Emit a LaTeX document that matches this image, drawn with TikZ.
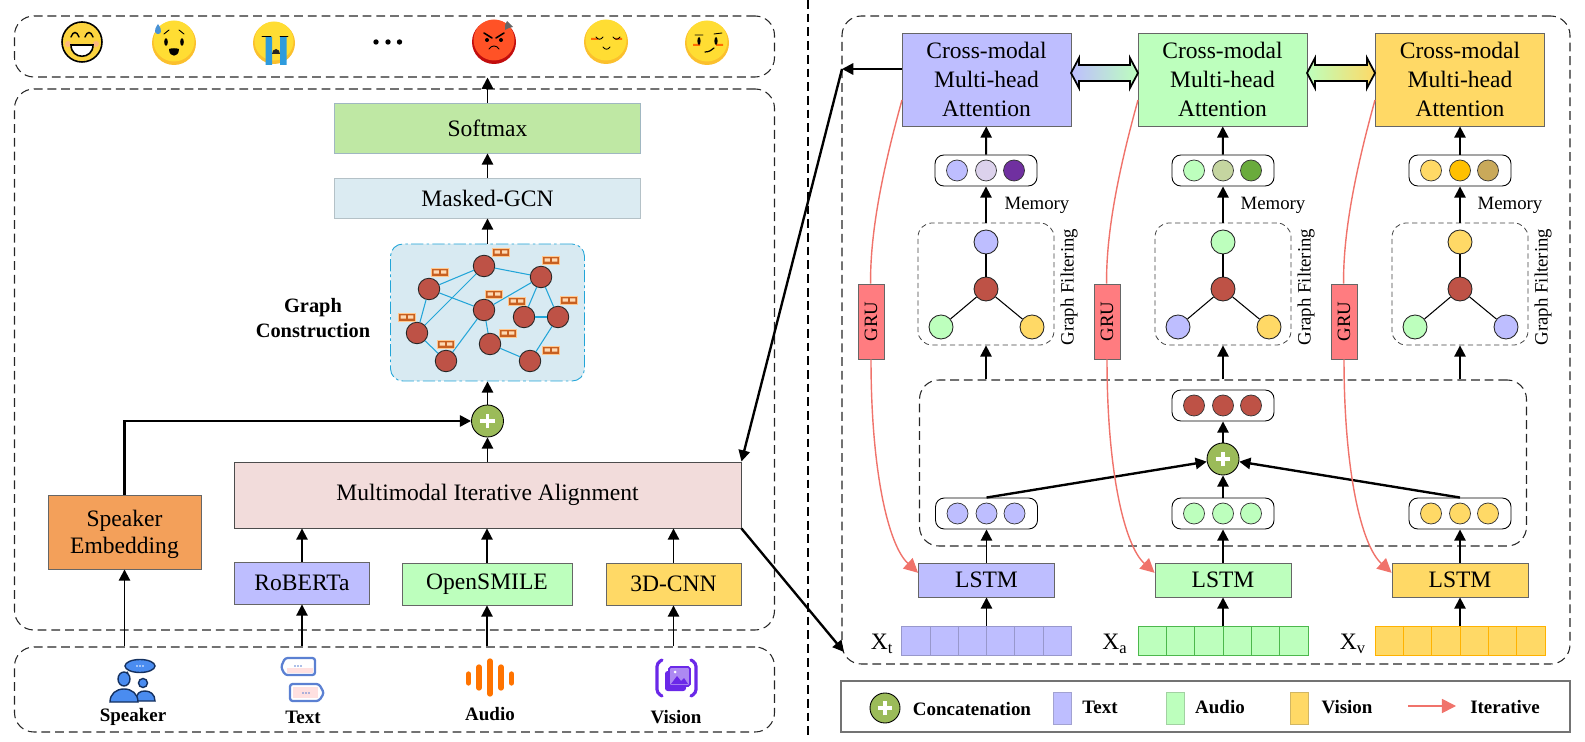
\documentclass[tikz,border=0pt]{standalone}
\usepackage{fontspec}
\setmainfont{Liberation Serif}
\usetikzlibrary{arrows.meta}
\newcommand{\px}{0.02cm}
\definecolor{textblue}{HTML}{BEBEFF}
\definecolor{audiogreen}{HTML}{BDFFBD}
\definecolor{visionyellow}{HTML}{FFD966}
\definecolor{nodered}{HTML}{BE5246}
\definecolor{plusgreen}{HTML}{9BBB59}
\definecolor{iterred}{HTML}{F0736B}
\definecolor{linkblue}{HTML}{22A5D8}
\definecolor{icondark}{HTML}{14305F}
\definecolor{iconblue}{HTML}{4A8CF0}
\definecolor{bubbleblue}{HTML}{5B80D2}
\definecolor{visionpurple}{HTML}{6A28E8}
\definecolor{faceyellow}{HTML}{FFDD33}
\definecolor{faceshade}{HTML}{FBC02D}
\definecolor{softmaxgreen}{HTML}{BFE8A4}
\definecolor{maskedblue}{HTML}{DBEBF2}
\definecolor{graphblue}{HTML}{D8EAF2}
\definecolor{alignpink}{HTML}{F2DCDB}
\definecolor{speakerorange}{HTML}{F3A05A}
\definecolor{grured}{HTML}{FF7C80}
\definecolor{tagorange}{HTML}{C75F20}
\tikzset{
  big text/.style={font=\fontsize{13.4}{16.2}\selectfont},
  small text/.style={font=\fontsize{10.7}{13}\selectfont},
  bold text/.style={font=\fontsize{10.8}{13}\selectfont\bfseries},
  panel/.style={draw=black!85, fill=none, dashed, dash pattern=on 5pt off 2.8pt, line width=0.6pt, rounded corners=11pt, inner sep=0pt},
  filter panel/.style={panel, draw=black!75, dash pattern=on 3pt off 2pt, line width=0.45pt, rounded corners=8pt},
  box/.style 2 args={draw=black!60, line width=0.5pt, inner sep=0pt, align=center, big text, minimum width=#1*\px, minimum height=#2*\px},
  pill/.style={draw=black, fill=white, line width=0.5pt, rounded corners=5pt, inner sep=0pt, minimum width=102*\px, minimum height=31*\px},
  dot/.style={circle, draw=black!80, line width=0.4pt, inner sep=0pt, minimum size=21*\px},
  vertex/.style={circle, draw=black!85, line width=0.5pt, inner sep=0pt, minimum size=24*\px},
  graph vertex/.style={circle, draw=black!85, fill=nodered, line width=0.5pt, inner sep=0pt, minimum size=21.5*\px},
  plus node/.style={circle, draw=black, fill=plusgreen, line width=0.5pt, inner sep=0pt, minimum size=#1*\px,
    path picture={\draw[white, line width=1.9pt]
      ([xshift=-4.2pt]path picture bounding box.center) -- ([xshift=4.2pt]path picture bounding box.center)
      ([yshift=-4.2pt]path picture bounding box.center) -- ([yshift=4.2pt]path picture bounding box.center);}},
  tag/.style={draw=orange!45, line width=0.3pt, fill=tagorange, inner sep=0pt, minimum width=17*\px, minimum height=8*\px,
    path picture={\fill[orange!30]
      ([xshift=-3.6pt,yshift=-0.9pt]path picture bounding box.center) rectangle ([xshift=-0.6pt,yshift=0.9pt]path picture bounding box.center)
      ([xshift=0.6pt,yshift=-0.9pt]path picture bounding box.center) rectangle ([xshift=3.6pt,yshift=0.9pt]path picture bounding box.center);}},
  flow/.style={->, line width=1.1pt},
  heavy flow/.style={->, line width=1.35pt},
  link/.style={draw=linkblue, line width=0.6pt},
  spoke/.style={draw=black, line width=0.6pt},
  iter line/.style={draw=iterred, line width=0.8pt},
  iter arrow/.style={iter line, -{Triangle[length=8pt,width=8pt,fill=iterred]}},
  gap arrow/.style={draw=black, line width=1pt, line join=miter},
  swatch/.style={draw=#1!80!black!90, fill=#1, line width=0.4pt, inner sep=0pt, minimum width=18*\px, minimum height=32*\px},
  seq cell/.style={line width=0.5pt},
  face/.style={circle, inner sep=0pt, minimum size=#1*\px},
  mini stroke/.style={draw=black, line width=0.5pt, line cap=round},
}

\begin{document}
\begin{tikzpicture}[x=\px, y=-\px, >={Triangle[length=6.4pt,width=6.4pt]}]
  \useasboundingbox (0,0) rectangle (1585,742);
  % left side
  \node[panel, minimum width=760*\px, minimum height=61*\px] (Emotion Panel) at (394.5,46.5) {};
  \node[panel, minimum width=760*\px, minimum height=541*\px] (Fusion Panel) at (394.5,359.5) {};
  \node[panel, minimum width=760*\px, minimum height=85*\px] (Input Panel) at (394.5,689.5) {};
  \node[box={306}{50}, fill=softmaxgreen, draw=cyan!40!black!45] (Softmax) at (487.5,128) {Softmax};
  \node[box={306}{40}, fill=maskedblue, draw=cyan!30!black!35] (Masked GCN) at (487.5,198) {Masked-GCN};
  \node[box={194}{137}, fill=graphblue, draw=linkblue, dash pattern=on 7pt off 1.8pt on 1.5pt off 1.8pt, rounded corners=7pt] (Graph Box) at (487.5,312.5) {};
  \node[bold text, font=\fontsize{11.6}{14.6}\selectfont\bfseries, align=center] (Graph Label) at (313,318) {Graph\\Construction};
  \node[plus node=32] (Plus Left) at (487.5,421) {};
  \node[box={507}{66}, fill=alignpink, draw=black!70] (Alignment) at (487.5,495) {Multimodal Iterative Alignment};
  \node[box={153}{74}, fill=speakerorange, font=\fontsize{13.4}{15.7}\selectfont, text depth=-1pt] (Speaker Embedding) at (124.5,532) {Speaker\\Embedding};
  \node[box={135}{42}, fill=textblue] (RoBERTa) at (302,583) {RoBERTa};
  \node[box={170}{42}, fill=audiogreen] (OpenSMILE) at (487,584) {OpenSMILE};
  \node[box={135}{42}, fill=visionyellow] (3D-CNN) at (673.5,584) {3D-CNN};
  % graph in the middle
  \node[graph vertex] (G1) at (484,266) {};
  \node[graph vertex] (G2) at (541,277) {};
  \node[graph vertex] (G3) at (429,289) {};
  \node[graph vertex] (G4) at (484,310) {};
  \node[graph vertex] (G5) at (524,317) {};
  \node[graph vertex] (G6) at (558,317) {};
  \node[graph vertex] (G7) at (417,333) {};
  \node[graph vertex] (G8) at (490,344) {};
  \node[graph vertex] (G9) at (446,361) {};
  \node[graph vertex] (G10) at (530,361) {};
  \draw[link] (G1) -- (G2);
  \draw[link] (G1) -- (G3);
  \draw[link] (G1) -- (G7);
  \draw[link] (G3) -- (G4);
  \draw[link] (G3) -- (G7);
  \draw[link] (G4) -- (G2);
  \draw[link] (G4) -- (G8);
  \draw[link] (G4) -- (G9);
  \draw[link] (G7) -- (G9);
  \draw[link] (G2) -- (G5);
  \draw[link] (G2) -- (G6);
  \draw[link] (G5) -- (G6);
  \draw[link] (G6) -- (G10);
  \draw[link] (G8) -- (G10);
  \node[tag] (Tag 1) at (501,252) {};
  \node[tag] (Tag 2) at (551,260) {};
  \node[tag] (Tag 3) at (440,272) {};
  \node[tag] (Tag 4) at (494,294) {};
  \node[tag] (Tag 5) at (517,301) {};
  \node[tag] (Tag 6) at (569,300) {};
  \node[tag] (Tag 7) at (407,317) {};
  \node[tag] (Tag 8) at (508,333) {};
  \node[tag] (Tag 9) at (446,344) {};
  \node[tag] (Tag 10) at (551,350) {};
  % arrows on the left
  \draw[flow] (Softmax) -- (Softmax |- Emotion Panel.south);
  \draw[flow] (Masked GCN) -- (Softmax);
  \draw[flow] (Graph Box) -- (Masked GCN);
  \draw[flow] (Plus Left) -- (Graph Box);
  \draw[flow] (Alignment.north -| Plus Left) -- (Plus Left);
  \draw[heavy flow] (Speaker Embedding.north) |- (Plus Left);
  \draw[flow] (Input Panel.north -| Speaker Embedding) -- (Speaker Embedding);
  \draw[flow] (Input Panel.north -| RoBERTa) -- (RoBERTa);
  \draw[flow] (Input Panel.north -| OpenSMILE) -- (OpenSMILE);
  \draw[flow] (Input Panel.north -| 3D-CNN) -- (3D-CNN);
  \draw[flow] (RoBERTa) -- (RoBERTa |- Alignment.south);
  \draw[flow] (OpenSMILE) -- (OpenSMILE |- Alignment.south);
  \draw[flow] (3D-CNN) -- (3D-CNN |- Alignment.south);
  % emotions
  \node[face=40, draw=black, line width=0.9pt, fill=yellow!60!orange!75!white] (Face Happy) at (82,42) {};
  \fill[red!35, opacity=0.6] (68,44) circle (3) (96,44) circle (3);
  \draw[mini stroke, line width=0.8pt] (71,37) .. controls (73,31) and (77,31) .. (79,37) (85,37) .. controls (87,31) and (91,31) .. (93,37);
  \draw[draw=black, line width=0.9pt, fill=white] (71,45) -- (93,45) .. controls (93,60) and (71,60) .. (71,45) -- cycle;
  \node[face=44, fill=faceshade] (Face Sweat) at (174,43) {};
  \fill[faceyellow] (174,41) circle (20.5);
  \fill[black] (166,42) ellipse (1.8 and 3.8) (182,42) ellipse (1.8 and 3.8);
  \fill[black] (169,49) .. controls (172,48) and (176,48) .. (179,49) .. controls (179,58) and (169,58) .. (169,49) -- cycle;
  \draw[mini stroke] (164,34) -- (169,30) (184,34) -- (179,30);
  \fill[cyan!60!blue!75] (158,24) .. controls (153,31) and (155,34) .. (158,34) .. controls (161,34) and (163,31) .. (158,24) -- cycle;
  \node[face=42, fill=faceshade] (Face Crying) at (274,43) {};
  \fill[faceyellow] (274,41) circle (19.5);
  \fill[cyan!75!blue!85] (265.5,37) rectangle (272,65) (280,37) rectangle (286.5,65);
  \fill[black!85] (272,54) arc (180:360:4 and 5) -- cycle;
  \draw[mini stroke, line width=0.4pt] (262,36) -- (271,36) (280,36) -- (288,36);
  \fill[black] (376,42) circle (2.7) (388,42) circle (2.7) (399.5,42) circle (2.7);
  \node[face=44, fill=red!75!black!95] (Face Angry) at (494,42) {};
  \fill[red!60!orange!85] (494,40) circle (20.5);
  \draw[mini stroke, line width=0.9pt] (484,33) -- (492,38) (504,33) -- (496,38);
  \fill[black] (487,40) circle (2) (501,40) circle (2);
  \draw[mini stroke] (489,49) .. controls (491,45) and (497,45) .. (499,49);
  \fill[black!60] (507,21) -- (510,24) -- (513,27) -- (509,28) -- (505,30) -- (505,25) -- cycle;
  \node[face=44, fill=faceshade] (Face Shy) at (606,42) {};
  \fill[faceyellow] (606,40) circle (20.5);
  \fill[orange!85!red] (591,38) rectangle (598,40) (615,38) rectangle (622,40);
  \draw[mini stroke] (596,37) .. controls (598,40) and (601,40) .. (603,37) (613,37) .. controls (615,40) and (618,40) .. (620,37);
  \draw[mini stroke] (603,47) .. controls (605,50) and (608,50) .. (610,47);
  \node[face=44, fill=faceshade] (Face Doubt) at (707,43) {};
  \fill[faceyellow] (707,41) circle (20.5);
  \fill[orange!85!red] (693,44) rectangle (700,46) (716,44) rectangle (723,46);
  \draw[mini stroke] (695,35) -- (703,35) (714,34) -- (722,33);
  \fill[black] (699,41) ellipse (1.6 and 4) (716,41) ellipse (1.6 and 4);
  \draw[mini stroke, line width=0.7pt] (705,52) .. controls (709,52) and (712,50) .. (714,48);
  % inputs
  \draw[icondark, line width=0.8pt, fill=iconblue] (140,666) ellipse (15 and 6.5);
  \draw[icondark, line width=0.8pt] (128,672) -- (124,675);
  \fill[white] (137,666) circle (0.8) (140,666) circle (0.8) (143,666) circle (0.8);
  \draw[icondark, line width=0.8pt, fill=iconblue] (136,701) .. controls (136,693) and (140,691) .. (145,691) .. controls (150,691) and (155,694) .. (155,701) -- cycle;
  \draw[icondark, line width=0.8pt, fill=iconblue] (143,683) circle (4.5);
  \draw[icondark, line width=0.8pt, fill=iconblue] (110,702) .. controls (110,694) and (116,689) .. (124,689) .. controls (132,689) and (138,694) .. (138,702) -- cycle;
  \draw[icondark, line width=0.8pt, fill=iconblue] (124,679) ellipse (6 and 7);
  \node[bold text] (Speaker Label) at (133,717) {Speaker};
  \draw[bubbleblue, line width=1.3pt, fill=white, rounded corners=1.5pt] (285,658) -- (315,658) -- (315,675) -- (285,675) -- (281,667) -- cycle;
  \fill[red!12] (287,668) rectangle (313,673);
  \fill[bubbleblue] (295,666) circle (0.8) (298,666) circle (0.8) (301,666) circle (0.8);
  \draw[bubbleblue, line width=1.3pt, fill=white, rounded corners=1.5pt] (290,684) -- (319,684) -- (324,693) -- (319,701) -- (290,701) -- cycle;
  \fill[red!12] (293,687) rectangle (318,698);
  \fill[bubbleblue] (303,693) circle (0.8) (306,693) circle (0.8) (309,693) circle (0.8);
  \node[bold text] (Text Label) at (303,717) {Text};
  \draw[orange!90!red, line width=3pt, line cap=round] (468.5,674) -- (468.5,683) (479,667) -- (479,688) (490,661) -- (490,694) (501,667) -- (501,688) (511.5,674) -- (511.5,683);
  \node[bold text] (Audio Label) at (490,714) {Audio};
  \draw[visionpurple, line width=1.8pt, line cap=round, rounded corners=2pt] (662,660) -- (657,663) -- (657,693) -- (662,696) (691,660) -- (696,663) -- (696,693) -- (691,696);
  \fill[visionpurple, rounded corners=1.5pt] (665,671) rectangle (686,691);
  \draw[visionpurple, line width=0.9pt, fill=visionpurple!55!white, rounded corners=1pt] (669,667) rectangle (690,686);
  \fill[visionpurple] (671,684) -- (677,676) -- (681,681) -- (684,678) -- (688,684) -- cycle;
  \fill[white] (675,672) circle (1.5);
  \node[bold text] (Vision Label) at (676,717) {Vision};
  % divider
  \draw[line width=0.9pt, dashed, dash pattern=on 5pt off 2.8pt] (808,0) -- (808,735);
  % right side
  \node[panel, minimum width=728*\px, minimum height=648*\px] (Detail Panel) at (1206,340) {};
  \node[panel, minimum width=607*\px, minimum height=166*\px] (Shared Panel) at (1223,463) {};
  \node[box={169}{93}, fill=textblue, font=\fontsize{13.4}{16.4}\selectfont] (Text Cross) at (986.5,79.5) {Cross-modal\\Multi-head\\Attention};
  \node[box={169}{93}, fill=audiogreen, font=\fontsize{13.4}{16.4}\selectfont] (Audio Cross) at (1222.5,79.5) {Cross-modal\\Multi-head\\Attention};
  \node[box={169}{93}, fill=visionyellow, font=\fontsize{13.4}{16.4}\selectfont] (Vision Cross) at (1460,79.5) {Cross-modal\\Multi-head\\Attention};
  \draw[gap arrow, left color=textblue, right color=audiogreen] (1071,73) -- (1079,58) -- (1079,65) -- (1130,65) -- (1130,58) -- (1138,73) -- (1130,88) -- (1130,81) -- (1079,81) -- (1079,88) -- cycle;
  \draw[gap arrow, left color=audiogreen, right color=visionyellow] (1307,73) -- (1315,58) -- (1315,65) -- (1367,65) -- (1367,58) -- (1375,73) -- (1367,88) -- (1367,81) -- (1315,81) -- (1315,88) -- cycle;
  \node[pill] (Text Memory) at (986,170.5) {};
  \node[dot, fill=textblue] (Text Memory A) at (957,170.5) {};
  \node[dot, fill={rgb,255:red,220;green,210;blue,236}] (Text Memory B) at (986,170.5) {};
  \node[dot, fill={rgb,255:red,112;green,48;blue,160}] (Text Memory C) at (1014,170.5) {};
  \node[pill] (Audio Memory) at (1223,170.5) {};
  \node[dot, fill=audiogreen] (Audio Memory A) at (1194,170.5) {};
  \node[dot, fill={rgb,255:red,197;green,213;blue,160}] (Audio Memory B) at (1223,170.5) {};
  \node[dot, fill={rgb,255:red,106;green,171;blue,60}] (Audio Memory C) at (1251,170.5) {};
  \node[pill] (Vision Memory) at (1460,170.5) {};
  \node[dot, fill=visionyellow] (Vision Memory A) at (1431,170.5) {};
  \node[dot, fill={rgb,255:red,255;green,192;blue,0}] (Vision Memory B) at (1460,170.5) {};
  \node[dot, fill={rgb,255:red,201;green,169;blue,90}] (Vision Memory C) at (1488,170.5) {};
  \node[small text] (Text Memory Label) at (1037,205) {Memory};
  \node[small text] (Audio Memory Label) at (1273,205) {Memory};
  \node[small text] (Vision Memory Label) at (1510,205) {Memory};
  \node[filter panel, minimum width=136*\px, minimum height=122*\px] (Text Filter) at (986,284) {};
  \node[filter panel, minimum width=136*\px, minimum height=122*\px] (Audio Filter) at (1223,284) {};
  \node[filter panel, minimum width=136*\px, minimum height=122*\px] (Vision Filter) at (1460,284) {};
  \node[small text, rotate=90] (Text Filter Label) at (1069,287) {Graph Filtering};
  \node[small text, rotate=90] (Audio Filter Label) at (1306,287) {Graph Filtering};
  \node[small text, rotate=90] (Vision Filter Label) at (1543,287) {Graph Filtering};
  % filters
  \node[vertex, fill=textblue] (Text Filter Top) at (986,242) {};
  \node[vertex, fill=nodered] (Text Filter Mid) at (986,289) {};
  \node[vertex, fill=audiogreen] (Text Filter Left) at (941,327) {};
  \node[vertex, fill=visionyellow] (Text Filter Right) at (1032,327) {};
  \draw[spoke] (Text Filter Top) -- (Text Filter Mid);
  \draw[spoke] (Text Filter Mid) -- (Text Filter Left);
  \draw[spoke] (Text Filter Mid) -- (Text Filter Right);
  \node[vertex, fill=audiogreen] (Audio Filter Top) at (1223,242) {};
  \node[vertex, fill=nodered] (Audio Filter Mid) at (1223,289) {};
  \node[vertex, fill=textblue] (Audio Filter Left) at (1178,327) {};
  \node[vertex, fill=visionyellow] (Audio Filter Right) at (1269,327) {};
  \draw[spoke] (Audio Filter Top) -- (Audio Filter Mid);
  \draw[spoke] (Audio Filter Mid) -- (Audio Filter Left);
  \draw[spoke] (Audio Filter Mid) -- (Audio Filter Right);
  \node[vertex, fill=visionyellow] (Vision Filter Top) at (1460,242) {};
  \node[vertex, fill=nodered] (Vision Filter Mid) at (1460,289) {};
  \node[vertex, fill=audiogreen] (Vision Filter Left) at (1415,327) {};
  \node[vertex, fill=textblue] (Vision Filter Right) at (1506,327) {};
  \draw[spoke] (Vision Filter Top) -- (Vision Filter Mid);
  \draw[spoke] (Vision Filter Mid) -- (Vision Filter Left);
  \draw[spoke] (Vision Filter Mid) -- (Vision Filter Right);
  % fusion
  \node[pill] (Fused) at (1223,405.5) {};
  \node[dot, fill=nodered] (Fused A) at (1194,405.5) {};
  \node[dot, fill=nodered] (Fused B) at (1223,405.5) {};
  \node[dot, fill=nodered] (Fused C) at (1251,405.5) {};
  \node[plus node=32] (Plus Right) at (1223,459) {};
  \node[pill] (Text Pill) at (986.5,513.5) {};
  \node[dot, fill=textblue] (Text Pill A) at (957.5,513.5) {};
  \node[dot, fill=textblue] (Text Pill B) at (986.5,513.5) {};
  \node[dot, fill=textblue] (Text Pill C) at (1014.5,513.5) {};
  \node[pill] (Audio Pill) at (1223,513.5) {};
  \node[dot, fill=audiogreen] (Audio Pill A) at (1194,513.5) {};
  \node[dot, fill=audiogreen] (Audio Pill B) at (1223,513.5) {};
  \node[dot, fill=audiogreen] (Audio Pill C) at (1251,513.5) {};
  \node[pill] (Vision Pill) at (1460,513.5) {};
  \node[dot, fill=visionyellow] (Vision Pill A) at (1431,513.5) {};
  \node[dot, fill=visionyellow] (Vision Pill B) at (1460,513.5) {};
  \node[dot, fill=visionyellow] (Vision Pill C) at (1488,513.5) {};
  \node[box={136}{34}, fill=textblue] (Text LSTM) at (986.5,580) {LSTM};
  \node[box={136}{34}, fill=audiogreen] (Audio LSTM) at (1223,580) {LSTM};
  \node[box={136}{34}, fill=visionyellow] (Vision LSTM) at (1460,580) {LSTM};
  % sequences
  \node[draw=textblue!80!black, fill=textblue, seq cell, inner sep=0pt, minimum width=170*\px, minimum height=29*\px] (Text Seq) at (986.5,640.5) {};
  \draw[textblue!80!black, seq cell] (930,626) -- (930,655) (958.3,626) -- (958.3,655) (986.5,626) -- (986.5,655) (1014.8,626) -- (1014.8,655) (1043,626) -- (1043,655);
  \node[draw=green!60!black!70, fill=audiogreen, seq cell, inner sep=0pt, minimum width=170*\px, minimum height=29*\px] (Audio Seq) at (1223,640.5) {};
  \draw[green!60!black!70, seq cell] (1166.5,626) -- (1166.5,655) (1194.8,626) -- (1194.8,655) (1223,626) -- (1223,655) (1251.3,626) -- (1251.3,655) (1279.5,626) -- (1279.5,655);
  \node[draw=orange!60!yellow, fill=visionyellow, seq cell, inner sep=0pt, minimum width=170*\px, minimum height=29*\px] (Vision Seq) at (1460,640.5) {};
  \draw[orange!60!yellow, seq cell] (1403.5,626) -- (1403.5,655) (1431.8,626) -- (1431.8,655) (1460,626) -- (1460,655) (1488.3,626) -- (1488.3,655) (1516.5,626) -- (1516.5,655);
  \node[big text] (Text Seq Label) at (882,644) {X\textsubscript{t}};
  \node[big text] (Audio Seq Label) at (1115,644) {X\textsubscript{a}};
  \node[big text] (Vision Seq Label) at (1353,644) {X\textsubscript{v}};
  % arrows on the right
  \draw[flow] (Text Seq) -- (Text LSTM);
  \draw[flow] (Audio Seq) -- (Audio LSTM);
  \draw[flow] (Vision Seq) -- (Vision LSTM);
  \draw[flow] (Text LSTM) -- (Text Pill);
  \draw[flow] (Audio LSTM) -- (Audio Pill);
  \draw[flow] (Vision LSTM) -- (Vision Pill);
  \draw[flow] (Audio Pill) -- (Plus Right);
  \draw[flow] (Plus Right) -- (Fused);
  \draw[heavy flow] (Text Pill.north) -- (Plus Right);
  \draw[heavy flow] (Vision Pill.north) -- (Plus Right);
  \draw[flow] (Shared Panel.north -| Text Filter) -- (Text Filter);
  \draw[flow] (Shared Panel.north -| Audio Filter) -- (Audio Filter);
  \draw[flow] (Shared Panel.north -| Vision Filter) -- (Vision Filter);
  \draw[flow] (Text Filter) -- (Text Memory);
  \draw[flow] (Audio Filter) -- (Audio Memory);
  \draw[flow] (Vision Filter) -- (Vision Memory);
  \draw[flow] (Text Memory) -- (Text Cross);
  \draw[flow] (Audio Memory) -- (Audio Cross);
  \draw[flow] (Vision Memory) -- (Vision Cross);
  % iterative links
  \node[box={26}{75}, fill=grured, draw=black!60, small text] (Text GRU) at (871,321.5) {\rotatebox{90}{GRU}};
  \node[box={26}{75}, fill=grured, draw=black!60, small text] (Audio GRU) at (1107,321.5) {\rotatebox{90}{GRU}};
  \node[box={26}{75}, fill=grured, draw=black!60, small text] (Vision GRU) at (1344,321.5) {\rotatebox{90}{GRU}};
  \coordinate (Text Iter) at (902,100);
  \coordinate (Audio Iter) at (1138,100);
  \coordinate (Vision Iter) at (1375,100);
  \draw[iter line] (Text Iter) .. controls (884,165) and (870,230) .. (Text GRU);
  \draw[iter line] (Audio Iter) .. controls (1120,165) and (1106,230) .. (Audio GRU);
  \draw[iter line] (Vision Iter) .. controls (1357,165) and (1343,230) .. (Vision GRU);
  \draw[iter arrow] (Text GRU.south) .. controls (871,470) and (888,545) .. (Text LSTM.174);
  \draw[iter arrow] (Audio GRU.south) .. controls (1107,470) and (1124,545) .. (Audio LSTM.174);
  \draw[iter arrow] (Vision GRU.south) .. controls (1344,470) and (1361,545) .. (Vision LSTM.174);
  % zoom lines
  \coordinate (Zoom Top) at (842,69);
  \coordinate (Zoom Bottom) at (844,652);
  \draw[heavy flow] (Text Cross.west |- Zoom Top) -- (Zoom Top);
  \draw[heavy flow] (Zoom Top) -- (Alignment.north east);
  \draw[heavy flow] (Alignment.south east) -- (Zoom Bottom);
  % legend
  \node[draw=black!55, line width=0.6pt, inner sep=0pt, minimum width=729*\px, minimum height=51*\px] (Legend) at (1205.5,706.5) {};
  \node[plus node=30] (Legend Plus) at (885,708) {};
  \node[bold text] (Legend Concat) at (972,709) {Concatenation};
  \node[swatch=textblue] (Legend Text Box) at (1062.5,708) {};
  \node[bold text] (Legend Text) at (1100,707) {Text};
  \node[swatch=audiogreen] (Legend Audio Box) at (1175,708) {};
  \node[bold text] (Legend Audio) at (1220,707) {Audio};
  \node[swatch=visionyellow] (Legend Vision Box) at (1299,708) {};
  \node[bold text] (Legend Vision) at (1347,707) {Vision};
  \coordinate (Legend Iter Start) at (1408,706);
  \coordinate (Legend Iter End) at (1456,706);
  \draw[iter arrow, line width=0.9pt] (Legend Iter Start) -- (Legend Iter End);
  \node[bold text] (Legend Iter) at (1505,707) {Iterative};
\end{tikzpicture}
\end{document}
